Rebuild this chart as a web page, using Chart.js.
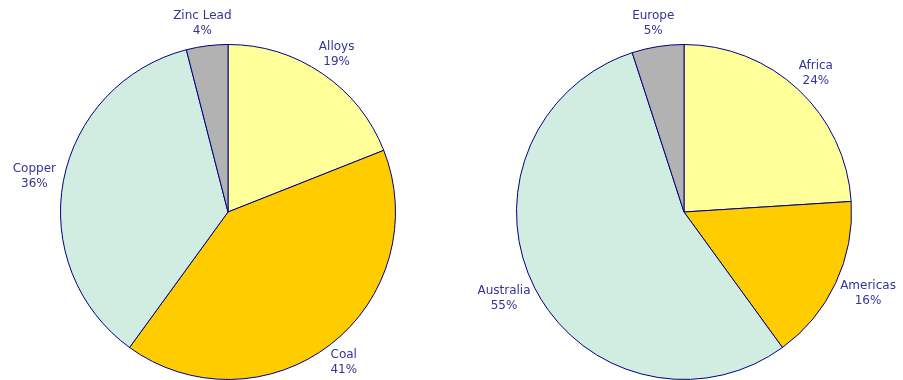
<!DOCTYPE html>
<html>
<head>
<meta charset="utf-8">
<script src="https://cdn.jsdelivr.net/npm/chart.js@4/dist/chart.umd.min.js"></script>
<style>
    html, body { margin: 0; padding: 0; background: #fff; }
    .wrap { position: relative; width: 903px; height: 380px; overflow: hidden; }
    #productChart { position: absolute; left: 0; top: 0; }
    #regionChart { position: absolute; left: 452px; top: 0; }
</style>
</head>
<body>
<div class="wrap">
    <canvas id="productChart" width="452" height="380"></canvas>
    <canvas id="regionChart" width="451" height="380"></canvas>
</div>
<script>
const productLabels = ['Alloys', 'Coal', 'Copper', 'Zinc Lead'];
const productShares = [19, 41, 36, 4];

const regionLabels = ['Africa', 'Americas', 'Australia', 'Europe'];
const regionShares = [24, 16, 55, 5];

const sliceColors = ['#FFFF99', '#FFCC00', '#D1EDE1', '#B2B2B2'];

// writes "name / pct%" just outside each slice; the text block is pushed out
// along the slice's middle angle by its own half-size so it never overlaps the pie
const outsideLabels = {
    id: 'outsideLabels',
    afterDraw(chart) {
        const ctx = chart.ctx;
        const meta = chart.getDatasetMeta(0);
        const values = chart.data.datasets[0].data;
        const lineH = 15;
        const gap = 8;
        ctx.save();
        ctx.font = '12px "DejaVu Sans", Verdana, sans-serif';
        ctx.fillStyle = '#333399';
        ctx.textAlign = 'center';
        ctx.textBaseline = 'middle';
        meta.data.forEach((arc, i) => {
            const { x, y, startAngle, endAngle, outerRadius } = arc.getProps(['x', 'y', 'startAngle', 'endAngle', 'outerRadius']);
            const name = chart.data.labels[i];
            const pct = values[i] + '%';
            const hw = Math.max(ctx.measureText(name).width, ctx.measureText(pct).width) / 2;
            const hh = lineH;
            const mid = (startAngle + endAngle) / 2;
            const cx = Math.cos(mid);
            const cy = Math.sin(mid);
            const lx = x + cx * (outerRadius + gap + hw);
            const ly = y + cy * (outerRadius + gap + hh);
            ctx.fillText(name, lx, ly - lineH / 2);
            ctx.fillText(pct, lx, ly + lineH / 2);
        });
        ctx.restore();
    }
};

const makePie = (el, labels, values, padding) => new Chart(el, {
    type: 'pie',
    data: {
        labels,
        datasets: [{
            data: values,
            backgroundColor: sliceColors,
            borderColor: '#000080',
            borderWidth: 1,
        }]
    },
    options: {
        responsive: false,
        animation: false,
        layout: { padding },
        plugins: {
            legend: { display: false },
            tooltip: { enabled: false },
        }
    },
    plugins: [outsideLabels]
});

makePie(document.getElementById('productChart'), productLabels, productShares,
    { top: 44, bottom: 0, left: 60, right: 56 });
makePie(document.getElementById('regionChart'), regionLabels, regionShares,
    { top: 44, bottom: 0, left: 64, right: 51 });
</script>
</body>
</html>
